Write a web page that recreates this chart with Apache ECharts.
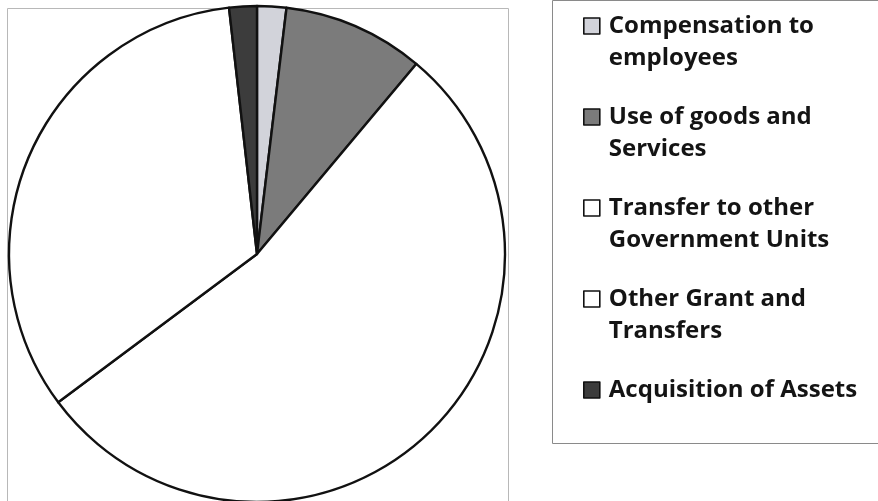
<!DOCTYPE html>
<html>
<head>
<meta charset="utf-8">
<script src="https://cdn.jsdelivr.net/npm/echarts@6/dist/echarts.min.js"></script>
<style>
html,body{margin:0;padding:0;background:#fff;}
#c{width:878px;height:501px;}
</style>
</head>
<body>
<div id="c"></div>
<script>
var categories = ['Compensation to employees', 'Use of goods and Services', 'Transfer to other Government Units', 'Other Grant and Transfers', 'Acquisition of Assets'];
var legendLines = [['Compensation to', 'employees'], ['Use of goods and', 'Services'], ['Transfer to other', 'Government Units'], ['Other Grant and', 'Transfers'], ['Acquisition of Assets', '']];
var values = [1.9, 9.2, 53.7, 33.4, 1.8];
var colors = ['#d2d3da', '#7b7b7b', '#ffffff', '#ffffff', '#3c3c3c'];

var chart = echarts.init(document.getElementById('c'), null, {renderer: 'canvas'});
var data = categories.map(function (n, i) {
  return {name: n, value: values[i], itemStyle: {color: colors[i]}};
});
var labelMap = {};
categories.forEach(function (n, i) {
  var l = legendLines[i];
  labelMap[n] = '{t|\u00a0}\n{t|' + l[0] + '}\n{t|' + (l[1] || '\u00a0') + '}';
});

chart.setOption({
  animation: false,
  backgroundColor: '#ffffff',
  graphic: [
    {type: 'rect', shape: {x: 7.5, y: 8.5, width: 501, height: 500}, style: {fill: 'none', stroke: '#b8b8b8', lineWidth: 1}, z: -1},
    {type: 'rect', shape: {x: 552.5, y: 0.5, width: 340, height: 443}, style: {fill: 'none', stroke: '#8a8a8a', lineWidth: 1}, z: -1}
  ],
  legend: {
    orient: 'vertical',
    left: 583,
    top: -22,
    padding: 0,
    itemWidth: 16,
    itemHeight: 16,
    itemGap: -5,
    icon: 'rect',
    selectedMode: false,
    formatter: function (n) { return labelMap[n]; },
    itemStyle: {borderColor: '#111', borderWidth: 1.6},
    textStyle: {
      fontFamily: 'Open Sans',
      fontWeight: 'bold',
      fontSize: 24,
      color: '#141414',
      lineHeight: 32,
      rich: {
        t: {
          fontFamily: 'Open Sans',
          fontWeight: 'bold',
          fontSize: 24,
          color: '#141414',
          lineHeight: 32,
          padding: [0, 0, 0, 4]
        }
      }
    },
    data: categories
  },
  series: [{
    type: 'pie',
    center: [257, 254],
    radius: 248,
    startAngle: 90,
    clockwise: true,
    label: {show: false},
    labelLine: {show: false},
    emphasis: {disabled: true},
    silent: true,
    itemStyle: {borderColor: '#111', borderWidth: 2.4},
    data: data
  }]
});
</script>
</body>
</html>
